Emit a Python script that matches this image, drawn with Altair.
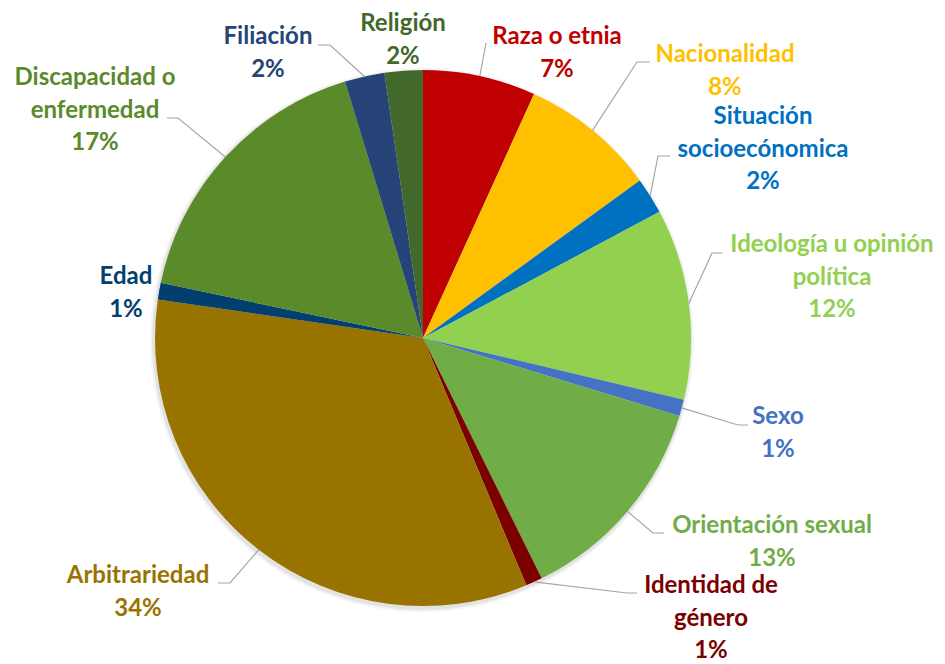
import math
import altair as alt
import pandas as pd

# ---- data ----
categories = ["Raza o etnia", "Nacionalidad", "Situación socioeconómica",
              "Ideología u opinión política", "Sexo", "Orientación sexual",
              "Identidad de género", "Arbitrariedad", "Edad",
              "Discapacidad o enfermedad", "Filiación", "Religión"]
values = [6.8, 8.2, 2.2, 11.5, 1.0, 13.0, 1.0, 33.6, 1.0, 17.0, 2.4, 2.3]
pct_labels = ["7%", "8%", "2%", "12%", "1%", "13%", "1%", "34%", "1%", "17%", "2%", "2%"]
label_names = ["Raza o etnia", "Nacionalidad", "Situación\nsocioecónomica",
               "Ideología u opinión\npolítica", "Sexo", "Orientación sexual",
               "Identidad de\ngénero", "Arbitrariedad", "Edad",
               "Discapacidad o\nenfermedad", "Filiación", "Religión"]

# ---- styles / layout ----
colors = ["#C00000", "#FFC000", "#0070C0", "#92D050", "#4472C4", "#70AD47",
          "#7B0000", "#997300", "#003F6E", "#5A8A2A", "#264478", "#43682B"]
R = 268
# label first-line centres (relative to pie centre, y downward)
label_pos = [(134, -301), (302, -283), (340, -221), (409, -93), (355, 79),
             (349, 188), (288, 248), (-285, 238), (-297, -61), (-328, -260),
             (-155, -301), (-20, -314)]
# leader elbow and end points (None = no leader line)
leaders = [((63, -295), (63, -295)), ((214, -276), (227, -276)),
           ((235, -182), (247, -182)), ((289, -85), (300, -85)),
           ((315, 87), (325, 87)), ((230, 195), (241, 195)),
           ((204, 255), (214, 255)), ((-193, 245), (-205, 245)),
           None, ((-245, -220), (-256, -220)), ((-93, -293), (-105, -293)), None]

xs = alt.Scale(domain=[-415, 514])
ys = alt.Scale(domain=[-330, 326], reverse=True)
cscale = alt.Scale(domain=categories, range=colors)

pie_df = pd.DataFrame({"cat": categories, "val": values,
                       "idx": list(range(len(categories))), "cx": 0, "cy": 0})

total = sum(values)
cum = 0.0
line_rows = []
text_rows = []
for i, (c, v) in enumerate(zip(categories, values)):
    mid = (cum + v / 2) / total * 2 * math.pi
    cum += v
    sx, sy = R * math.sin(mid), -R * math.cos(mid)
    if leaders[i] is not None:
        (ex, ey), (hx, hy) = leaders[i]
        for k, (px, py) in enumerate([(sx, sy), (ex, ey), (hx, hy)]):
            line_rows.append({"cat": c, "step": k, "x": px, "y": py})
    lx, ly = label_pos[i]
    text_rows.append({"cat": c, "x": lx, "y": ly,
                      "txt": label_names[i] + "\n" + pct_labels[i]})

line_df = pd.DataFrame(line_rows)
text_df = pd.DataFrame(text_rows)
shadow_df = pd.DataFrame({"cx": [-1.0], "cy": [2.0]})

X0 = alt.X("cx:Q", scale=xs, axis=None)
Y0 = alt.Y("cy:Q", scale=ys, axis=None)

shadow1 = alt.Chart(shadow_df).mark_arc(theta=0, theta2=2 * math.pi, radius=R + 4,
                                        color="#000000", opacity=0.04).encode(x=X0, y=Y0)
shadow2 = alt.Chart(shadow_df).mark_arc(theta=0, theta2=2 * math.pi, radius=R + 2,
                                        color="#000000", opacity=0.07).encode(x=X0, y=Y0)

pie = alt.Chart(pie_df).mark_arc(radius=R).encode(
    x=X0, y=Y0,
    theta=alt.Theta("val:Q", stack=True),
    order=alt.Order("idx:Q"),
    color=alt.Color("cat:N", scale=cscale, legend=None),
)

lines = alt.Chart(line_df).mark_line(color="#A6A6A6", strokeWidth=1.2).encode(
    x=alt.X("x:Q", scale=xs, axis=None),
    y=alt.Y("y:Q", scale=ys, axis=None),
    detail="cat:N",
    order="step:Q",
)

texts = alt.Chart(text_df).mark_text(font="Lato", fontWeight="bold", fontSize=24,
                                     lineBreak="\n", lineHeight=32.5,
                                     align="center", baseline="middle").encode(
    x=alt.X("x:Q", scale=xs, axis=None),
    y=alt.Y("y:Q", scale=ys, axis=None),
    text="txt:N",
    color=alt.Color("cat:N", scale=cscale, legend=None),
)

chart = alt.layer(shadow1, shadow2, pie, lines, texts).properties(
    width=929, height=656, padding=0, autosize="none", background="#FFFFFF"
).configure_view(stroke=None)

chart.save("out.html", embed_options={"renderer": "svg", "actions": False})
